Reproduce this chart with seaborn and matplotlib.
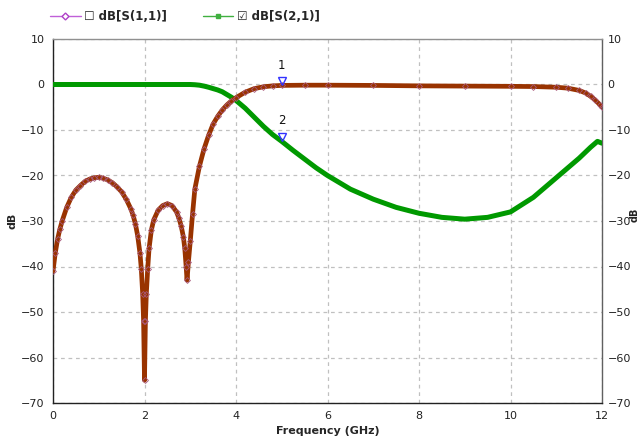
import matplotlib
matplotlib.use("Agg")
import matplotlib.pyplot as plt
import matplotlib.transforms as mtransforms
from matplotlib.lines import Line2D
import seaborn as sns
import pandas as pd

# ---- data ----
s11_freq = [0.0, 0.05, 0.1, 0.15, 0.2, 0.3, 0.4, 0.5, 0.6, 0.7, 0.8, 0.9, 1.0,
            1.1, 1.2, 1.3, 1.4, 1.5, 1.6, 1.7, 1.75, 1.8, 1.85, 1.9, 1.93, 1.96,
            1.98, 2.0, 2.02, 2.04, 2.07, 2.1, 2.15, 2.2, 2.3, 2.4, 2.5, 2.6, 2.7,
            2.75, 2.8, 2.85, 2.88, 2.91, 2.93, 2.96, 3.0, 3.05, 3.1, 3.2, 3.3,
            3.4, 3.5, 3.6, 3.7, 3.8, 3.9, 4.0, 4.2, 4.4, 4.6, 4.8, 5.0, 5.5, 6.0,
            7.0, 8.0, 9.0, 10.0, 10.5, 11.0, 11.25, 11.5, 11.65, 11.75, 11.85,
            11.95, 12.0]
s11_db = [-41.0, -37.0, -34.0, -31.8, -30.0, -27.0, -24.8, -23.2, -22.2, -21.3,
          -20.8, -20.5, -20.4, -20.6, -21.0, -21.6, -22.5, -23.6, -25.2, -27.3,
          -28.7, -30.6, -33.2, -37.0, -40.5, -46.0, -52.0, -65.0, -52.0, -46.0,
          -40.5, -36.0, -32.0, -29.8, -27.6, -26.6, -26.2, -26.6, -28.0, -29.3,
          -31.0, -33.5, -36.0, -40.0, -43.0, -39.0, -34.5, -28.5, -23.0, -18.0,
          -14.2, -11.2, -8.7, -7.0, -5.6, -4.5, -3.6, -2.9, -1.7, -0.9, -0.5,
          -0.3, -0.2, -0.15, -0.15, -0.2, -0.3, -0.35, -0.4, -0.45, -0.6, -0.8,
          -1.3, -1.9, -2.6, -3.4, -4.4, -5.0]

s21_freq = [0.0, 0.5, 1.0, 1.5, 2.0, 2.5, 3.0, 3.1, 3.2, 3.3, 3.4, 3.5, 3.6,
            3.7, 3.8, 3.9, 4.0, 4.2, 4.4, 4.6, 4.8, 5.0, 5.25, 5.5, 5.75, 6.0,
            6.5, 7.0, 7.5, 8.0, 8.5, 9.0, 9.5, 10.0, 10.5, 11.0, 11.5, 11.75,
            11.9, 12.0]
s21_db = [0.0, 0.0, 0.0, 0.0, 0.0, 0.0, 0.0, -0.05, -0.15, -0.35, -0.6, -0.9,
          -1.2, -1.6, -2.2, -2.8, -3.5, -5.2, -7.2, -9.2, -11.0, -12.5, -14.5,
          -16.4, -18.3, -20.0, -23.0, -25.2, -27.0, -28.3, -29.2, -29.6, -29.2,
          -28.0, -24.8, -20.5, -16.2, -13.8, -12.5, -12.9]

marker_freq = 5.0
marker_labels = ["1", "2"]

x_ticks = [0, 2, 4, 6, 8, 10, 12]
y_ticks = [10, 0, -10, -20, -30, -40, -50, -60, -70]

df11 = pd.DataFrame({"f": s11_freq, "db": s11_db})
df21 = pd.DataFrame({"f": s21_freq, "db": s21_db})

sns.set_theme(style="white")
plt.rcParams["font.family"] = ["DejaVu Sans"]

fig = plt.figure(figsize=(6.41, 4.40), dpi=100)
ax = fig.add_axes([53 / 641, 1 - 403 / 440, (602 - 53) / 641, (403 - 39) / 440])

brown = "#993300"
green = "#009900"

sns.lineplot(data=df21, x="f", y="db", ax=ax, color=green, lw=3.6,
             sort=False, zorder=3)
sns.lineplot(data=df11, x="f", y="db", ax=ax, color=brown, lw=3.4,
             marker="D", ms=3.0, mfc="none", mec="#a8587a", mew=0.6,
             sort=False, zorder=4)

# markers 1 and 2
m_vals = [s11_db[s11_freq.index(marker_freq)], s21_db[s21_freq.index(marker_freq)]]
off = mtransforms.offset_copy(ax.transData, fig=fig, x=0, y=4, units="dots")
for lab, v in zip(marker_labels, m_vals):
    ax.plot([marker_freq], [v], marker="v", ms=6, mfc="none", mec="#3333ff",
            mew=1.0, transform=off, zorder=6, clip_on=False)
    ax.annotate(lab, (marker_freq, v), xytext=(0, 10), textcoords="offset points",
                ha="center", va="bottom", fontsize=8.5, color="#111111", zorder=6)

ax.set_xlim(0, 12)
ax.set_ylim(-70, 10)
ax.set_xticks(x_ticks)
ax.set_yticks(y_ticks)
ax.grid(True, color="#c0c0c0", linestyle=(0, (3, 3)), lw=0.9)
ax.tick_params(axis="both", length=0, labelsize=8, colors="#222222", pad=6)
ax.set_xlabel("Frequency (GHz)", fontsize=8, fontweight="bold", labelpad=3)
ax.set_ylabel("dB", fontsize=8, fontweight="bold", labelpad=3)
for side, c in [("left", "#222222"), ("bottom", "#222222"), ("top", "#909090"),
                ("right", "#606060")]:
    ax.spines[side].set_visible(True)
    ax.spines[side].set_color(c)
    ax.spines[side].set_linewidth(1.0)

ax2 = ax.twinx()
ax2.set_ylim(-70, 10)
ax2.set_yticks(y_ticks)
ax2.tick_params(axis="y", length=0, labelsize=8, colors="#222222", pad=4)
for s in ax2.spines.values():
    s.set_visible(False)
fig.text(635 / 641, 1 - 215 / 440, "dB", rotation=90, ha="center", va="center",
         fontsize=7, fontweight="bold", color="#222222")

handles = [Line2D([], [], color="#c060d8", lw=1, marker="D", ms=3.5,
                  mfc="white", mec="#b040c8"),
           Line2D([], [], color="#40b040", lw=1, marker="s", ms=3.5,
                  mfc="#40b040", mec="#40b040")]
labels = ["\u2610 dB[S(1,1)]", "\u2611 dB[S(2,1)]"]
fig.legend(handles, labels, loc="center left",
           bbox_to_anchor=(50 / 641, 1 - 17 / 440), ncol=2, frameon=False,
           handlelength=2.6, handletextpad=0.3, columnspacing=3.0,
           borderpad=0, borderaxespad=0,
           prop={"size": 8.5, "weight": "bold"})

fig.savefig("out.png", dpi=100, facecolor="white")
